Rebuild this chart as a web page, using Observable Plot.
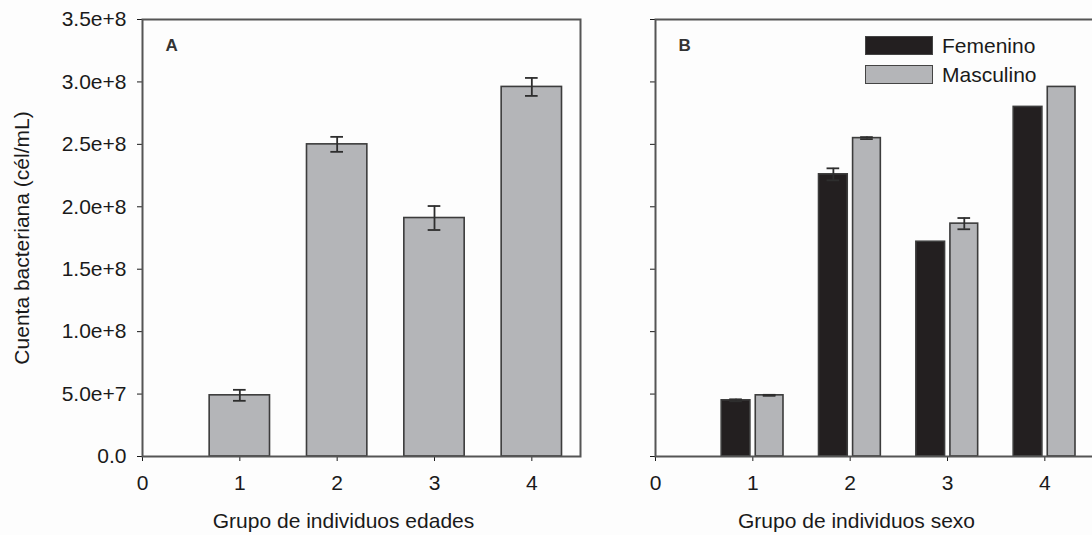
<!DOCTYPE html>
<html>
<head>
<meta charset="utf-8">
<script src="https://cdn.jsdelivr.net/npm/d3@7"></script>
<script src="https://cdn.jsdelivr.net/npm/@observablehq/plot@0.6"></script>
<style>
  html, body { margin: 0; padding: 0; background: #fdfdfd; }
  #wrap { position: relative; width: 1092px; height: 535px; overflow: hidden; font-family: "Liberation Sans", Arial, sans-serif; }
  .panel { position: absolute; top: 0; }
  .legend { position: absolute; left: 865px; top: 31px; font-size: 21px; color: #1a1a1a; }
  .legend .row { display: flex; align-items: center; height: 29px; }
  .legend .sw { width: 68px; height: 19px; margin-right: 9px; box-sizing: border-box; border: 1.5px solid #444; }
</style>
</head>
<body>
<div id="wrap"></div>
<script>
// ---- data ----
const groups = [1, 2, 3, 4];
const xTicks = [0, 1, 2, 3, 4];
const yTicks = [0, 5e7, 1e8, 1.5e8, 2e8, 2.5e8, 3e8, 3.5e8];
const yTickLabels = ["0.0", "5.0e+7", "1.0e+8", "1.5e+8", "2.0e+8", "2.5e+8", "3.0e+8", "3.5e+8"];

// Panel A: age groups
const edadMean = [4.9e7, 2.50e8, 1.91e8, 2.96e8];
const edadErr  = [0.044e8, 0.06e8, 0.096e8, 0.072e8];

// Panel B: sex
const seriesNames = ["Femenino", "Masculino"];
const femMean  = [4.5e7, 2.26e8, 1.72e8, 2.80e8];
const femErr   = [0.008e8, 0.048e8, 0, 0];
const mascMean = [4.9e7, 2.55e8, 1.865e8, 2.96e8];
const mascErr  = [0.004e8, 0.008e8, 0.045e8, 0];

const colors = {Femenino: "#231f20", Masculino: "#b4b5b8"};
const font = "Liberation Sans, Arial, sans-serif";

const rowsA = groups.map((g, i) => ({g, v: edadMean[i], e: edadErr[i]}));
const rowsB = [];
groups.forEach((g, i) => {
  rowsB.push({g, s: seriesNames[0], v: femMean[i], e: femErr[i], x1: g - 0.32, x2: g - 0.025});
  rowsB.push({g, s: seriesNames[1], v: mascMean[i], e: mascErr[i], x1: g + 0.03, x2: g + 0.315});
});
rowsA.forEach(d => { d.x1 = d.g - 0.31; d.x2 = d.g + 0.31; });

function panel(rows, opts) {
  const errRows = rows.filter(d => d.e > 0).map(d => ({...d, xc: (d.x1 + d.x2) / 2}));
  return Plot.plot({
    width: 600,
    height: 535,
    marginLeft: 142,
    marginRight: 20,
    marginTop: 19,
    marginBottom: 79,
    style: {fontFamily: font, fontSize: "21px", color: "#1a1a1a", background: "transparent", overflow: "visible"},
    x: {domain: [0, 4.5], ticks: xTicks, tickFormat: d => String(d), tickSize: 5, tickPadding: 14, label: null},
    y: {domain: [0, 3.5e8], ticks: yTicks,
        tickFormat: opts.yLabels ? (d => yTickLabels[yTicks.indexOf(d)]) : (() => ""),
        tickSize: 5, tickPadding: 11,
        label: opts.yLabel, labelAnchor: "center", labelArrow: "none", labelOffset: 128},
    color: {domain: seriesNames, range: seriesNames.map(s => colors[s])},
    marks: [
      Plot.rectY(rows, {x1: "x1", x2: "x2", y1: 0, y2: "v",
        fill: d => d.s ? colors[d.s] : colors.Masculino,
        stroke: "#3c3c3c", strokeWidth: 1.6}),
      Plot.ruleX(errRows, {x: "xc", y1: d => d.v - d.e, y2: d => d.v + d.e, stroke: "#2e2e2e", strokeWidth: 1.8}),
      Plot.ruleY(errRows, {y: d => d.v + d.e, x1: d => d.xc - 0.065, x2: d => d.xc + 0.065, stroke: "#2e2e2e", strokeWidth: 1.8}),
      Plot.ruleY(errRows, {y: d => d.v - d.e, x1: d => d.xc - 0.065, x2: d => d.xc + 0.065, stroke: "#2e2e2e", strokeWidth: 1.8}),
      Plot.frame({stroke: "#555", strokeWidth: 2}),
      Plot.text([opts.letter], {frameAnchor: "top-left", dx: 23, dy: 19, fontWeight: "bold", fontSize: 17, fill: "#333"}),
      Plot.text([opts.xLabel], {frameAnchor: "bottom", dx: -18, dy: 71, fontSize: 21, fill: "#1a1a1a"})
    ]
  });
}

const wrap = document.getElementById("wrap");
const a = panel(rowsA, {letter: "A", xLabel: "Grupo de individuos edades", yLabel: "Cuenta bacteriana (cél/mL)", yLabels: true});
a.classList.add("panel"); a.style.left = "0px";
const b = panel(rowsB, {letter: "B", xLabel: "Grupo de individuos sexo", yLabel: null, yLabels: false});
b.classList.add("panel"); b.style.left = "513px";
wrap.appendChild(a);
wrap.appendChild(b);

// legend
const leg = document.createElement("div");
leg.className = "legend";
seriesNames.forEach(s => {
  const row = document.createElement("div");
  row.className = "row";
  const sw = document.createElement("span");
  sw.className = "sw";
  sw.style.background = colors[s];
  const t = document.createElement("span");
  t.textContent = s;
  row.appendChild(sw); row.appendChild(t);
  leg.appendChild(row);
});
wrap.appendChild(leg);
</script>
</body>
</html>
